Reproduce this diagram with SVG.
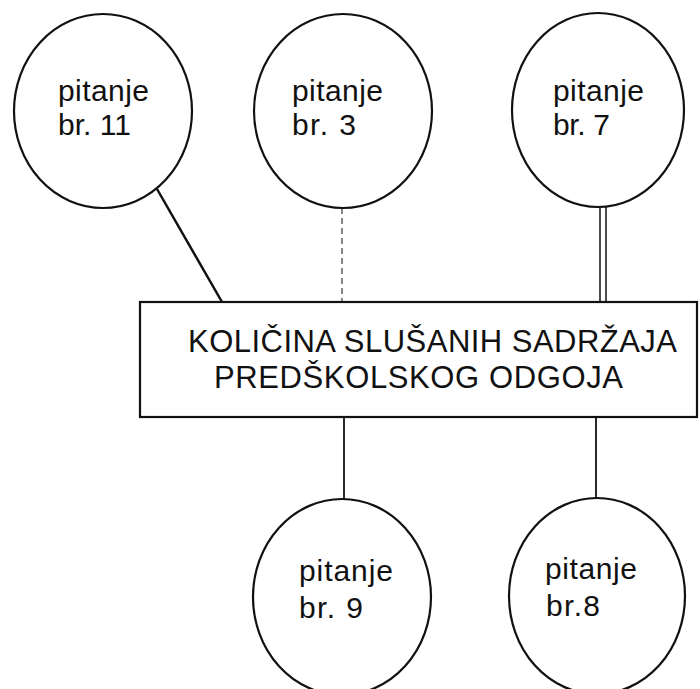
<svg xmlns="http://www.w3.org/2000/svg" width="700" height="689" viewBox="0 0 700 689">
<style>
.node{fill:none;stroke:#111;stroke-width:2.2}
.t{font-family:"Liberation Sans",Arial,Helvetica,sans-serif;font-size:30px;fill:#111}
.tb{font-family:"Liberation Sans",Arial,Helvetica,sans-serif;font-size:31px;fill:#111}
.c{stroke:#111;fill:none}
</style>
<rect width="700" height="689" fill="#fff"/>
<g id="connectors">
<line class="c" x1="157" y1="189" x2="222" y2="302" stroke-width="2.5"/>
<line class="c" x1="342" y1="208" x2="342" y2="302" stroke-width="1" stroke-dasharray="6 4"/>
<line class="c" x1="600" y1="207" x2="600" y2="302" stroke-width="1.5"/>
<line class="c" x1="606" y1="207" x2="606" y2="302" stroke-width="1.5"/>
<line class="c" x1="344" y1="417" x2="344" y2="499" stroke-width="1.8"/>
<line class="c" x1="596" y1="417" x2="596" y2="498" stroke-width="1.8"/>
</g>
<g id="q11">
<ellipse class="node" cx="103" cy="111" rx="89" ry="97"/>
<text class="t" x="58" y="101" textLength="91" lengthAdjust="spacing">pitanje</text>
<text class="t" x="58" y="135" textLength="73" lengthAdjust="spacing">br. 11</text>
</g>
<g id="q3">
<ellipse class="node" cx="343" cy="111" rx="89" ry="97"/>
<text class="t" x="292" y="101" textLength="91" lengthAdjust="spacing">pitanje</text>
<text class="t" x="292" y="135" textLength="64" lengthAdjust="spacing">br. 3</text>
</g>
<g id="q7">
<ellipse class="node" cx="598" cy="110" rx="86" ry="97"/>
<text class="t" x="553" y="101" textLength="91" lengthAdjust="spacing">pitanje</text>
<text class="t" x="553" y="135" textLength="57" lengthAdjust="spacing">br. 7</text>
</g>
<g id="center">
<rect class="node" x="140" y="302" width="557" height="115"/>
<text class="tb" x="188" y="352" textLength="489" lengthAdjust="spacing">KOLIČINA SLUŠANIH SADRŽAJA</text>
<text class="tb" x="214" y="388" textLength="409" lengthAdjust="spacing">PREDŠKOLSKOG ODGOJA</text>
</g>
<g id="q9">
<ellipse class="node" cx="342" cy="597" rx="89" ry="98"/>
<text class="t" x="299" y="581" textLength="94" lengthAdjust="spacing">pitanje</text>
<text class="t" x="299" y="618" textLength="64" lengthAdjust="spacing">br. 9</text>
</g>
<g id="q8">
<ellipse class="node" cx="597" cy="596" rx="88" ry="98"/>
<text class="t" x="545" y="579" textLength="92" lengthAdjust="spacing">pitanje</text>
<text class="t" x="546" y="616" textLength="54" lengthAdjust="spacing">br.8</text>
</g>
</svg>
